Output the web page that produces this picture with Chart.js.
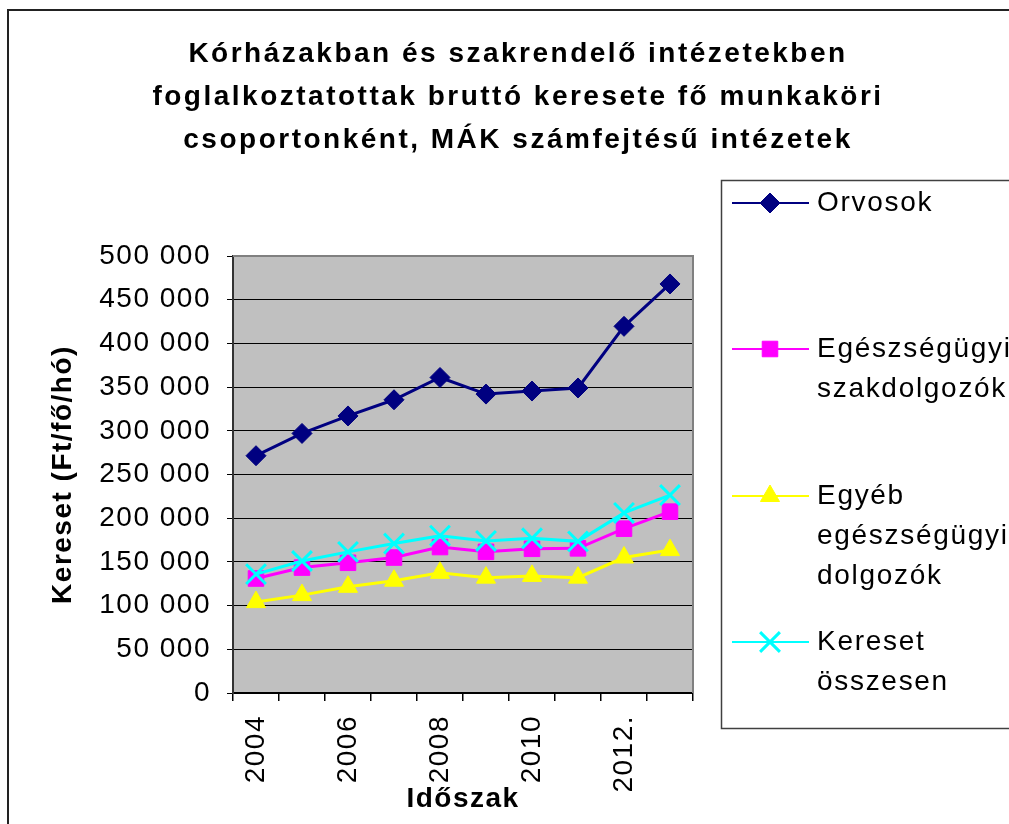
<!DOCTYPE html>
<html lang="hu">
<head>
<meta charset="utf-8">
<title>Bruttó kereset fő munkaköri csoportonként</title>
<script src="https://cdn.jsdelivr.net/npm/chart.js@4.4.1/dist/chart.umd.min.js"></script>
<style>
  html, body { margin: 0; padding: 0; background: #fff; overflow: hidden; }
  #wrap { width: 1036px; height: 824px; }
</style>
</head>
<body>
<div id="wrap"><canvas id="keresetChart" width="1036" height="824"></canvas></div>
<script>
// Kórházak és szakrendelők - bruttó kereset (Ft/fő/hó), MÁK számfejtés

const years = ['2004', '2005', '2006', '2007', '2008', '2009', '2010', '2011', '2012.', '2013.'];
const orvosok = [271500, 297000, 317000, 335500, 361000, 342000, 345500, 349000, 419500, 468000];
const szakdolgozok = [131000, 143500, 149000, 155000, 167000, 161500, 165000, 165500, 188000, 207500];
const egyebDolgozok = [104000, 112000, 121500, 128500, 137500, 132000, 134000, 132000, 155000, 163500];
const keresetOsszesen = [136000, 151000, 161500, 171000, 180000, 174000, 177000, 173500, 206000, 226500];

const yMin = 0;
const yMax = 500000;
const yStep = 50000;

const FONT = '"Liberation Sans", Arial, sans-serif';

// "500 000" style thousands
function ezres(v) {
  return String(v).replace(/\B(?=(\d{3})+(?!\d))/g, ' ');
}

// gray plot area + spaced text, like the old Excel look
const plotBackground = {
  id: 'plotBackground',
  beforeDraw(chart) {
    const { ctx, chartArea: a } = chart;
    ctx.save();
    ctx.fillStyle = '#C0C0C0';
    ctx.fillRect(a.left, a.top, a.right - a.left, a.bottom - a.top);
    ctx.restore();
    ctx.letterSpacing = '1.5px';
  },
  afterLayout(chart) {
    const t = chart.titleBlock;
    if (t && !t._spaced) {
      const draw = t.draw;
      t.draw = function () {
        const old = this.ctx.letterSpacing;
        this.ctx.letterSpacing = '2.5px';
        draw.apply(this, arguments);
        this.ctx.letterSpacing = old;
      };
      t._spaced = true;
    }
  },
  beforeDatasetsDraw(chart) {
    const { ctx, chartArea: a } = chart;
    ctx.save();
    ctx.strokeStyle = '#808080';
    ctx.lineWidth = 2;
    ctx.beginPath();
    ctx.moveTo(a.left, a.top);
    ctx.lineTo(a.right, a.top);
    ctx.lineTo(a.right, a.bottom);
    ctx.stroke();
    ctx.restore();
  },
  afterDraw(chart) {
    chart.ctx.letterSpacing = '0px';
  }
};

// legend box on the right, labels wrapped word by word
const legendRows = [203, 349, 496, 642];

const excelLegend = {
  id: 'excelLegend',
  afterDraw(chart) {
    const ctx = chart.ctx;
    ctx.save();
    // outer chart frame
    ctx.strokeStyle = '#222';
    ctx.lineWidth = 2;
    ctx.strokeRect(8, 10, 1100, 900);
    // legend frame
    ctx.strokeStyle = '#404040';
    ctx.lineWidth = 1.5;
    ctx.strokeRect(721.5, 180.5, 400, 548);

    ctx.font = '28px ' + FONT;
    ctx.letterSpacing = '1.7px';
    ctx.textBaseline = 'middle';
    ctx.textAlign = 'left';
    chart.data.datasets.forEach((ds, i) => {
      const y = legendRows[i];
      ctx.strokeStyle = ds.borderColor;
      ctx.lineWidth = 2;
      ctx.beginPath();
      ctx.moveTo(732, y);
      ctx.lineTo(809, y);
      ctx.stroke();

      ctx.fillStyle = ds.pointBackgroundColor;
      ctx.strokeStyle = ds.pointBorderColor;
      ctx.lineWidth = ds.pointBorderWidth;
      Chart.helpers.drawPoint(ctx, {
        pointStyle: ds.pointStyle,
        radius: ds.pointRadius,
        rotation: 0,
        borderWidth: ds.pointBorderWidth
      }, 770, y);

      ctx.fillStyle = '#000';
      ds.label.split(' ').forEach((word, j) => ctx.fillText(word, 817, y + j * 40));
    });
    ctx.restore();
  }
};

function initKeresetChart() {
  const ctx = document.getElementById('keresetChart');

  new Chart(ctx, {
    type: 'line',
    data: {
      labels: years,
      datasets: [
        {
          label: 'Orvosok',
          data: orvosok,
          borderColor: '#000080',
          borderWidth: 3,
          pointStyle: 'rectRot',
          pointRadius: 10,
          pointBackgroundColor: '#000080',
          pointBorderColor: '#000080',
          pointBorderWidth: 1,
          order: 4
        },
        {
          label: 'Egészségügyi szakdolgozók',
          data: szakdolgozok,
          borderColor: '#FF00FF',
          borderWidth: 3,
          pointStyle: 'rect',
          pointRadius: 11,
          pointBackgroundColor: '#FF00FF',
          pointBorderColor: '#FF00FF',
          pointBorderWidth: 1,
          order: 3
        },
        {
          label: 'Egyéb egészségügyi dolgozók',
          data: egyebDolgozok,
          borderColor: '#FFFF00',
          borderWidth: 3,
          pointStyle: 'triangle',
          pointRadius: 11,
          pointBackgroundColor: '#FFFF00',
          pointBorderColor: '#FFFF00',
          pointBorderWidth: 1,
          order: 2
        },
        {
          label: 'Kereset összesen',
          data: keresetOsszesen,
          borderColor: '#00FFFF',
          borderWidth: 3,
          pointStyle: 'crossRot',
          pointRadius: 14,
          pointBackgroundColor: '#00FFFF',
          pointBorderColor: '#00FFFF',
          pointBorderWidth: 3,
          order: 1
        }
      ]
    },
    options: {
      responsive: false,
      devicePixelRatio: 1,
      animation: false,
      events: [],
      elements: { line: { tension: 0 } },
      layout: { padding: 0 },
      plugins: {
        legend: { display: false },
        tooltip: { enabled: false },
        title: {
          display: true,
          text: [
            'Kórházakban és szakrendelő intézetekben',
            'foglalkoztatottak bruttó keresete fő munkaköri',
            'csoportonként, MÁK számfejtésű intézetek'
          ],
          color: '#000',
          font: { family: FONT, size: 28, weight: 'bold', lineHeight: '43px' },
          padding: { top: 33, bottom: 94 }
        }
      },
      scales: {
        x: {
          offset: true,
          afterFit(scale) { scale.height = 131; },
          border: { display: true, color: '#000', width: 2 },
          grid: {
            display: true,
            offset: true,
            drawOnChartArea: false,
            drawTicks: true,
            tickLength: 8,
            color: '#000',
            lineWidth: 1.5
          },
          ticks: {
            autoSkip: false,
            maxRotation: 90,
            minRotation: 90,
            padding: 14,
            color: '#000',
            font: { family: FONT, size: 28 },
            callback: function (val, i) {
              return i % 2 === 0 ? this.getLabelForValue(val) : '';
            }
          },
          title: {
            display: true,
            text: 'Időszak',
            color: '#000',
            font: { family: FONT, size: 28, weight: 'bold' },
            padding: { top: 0, bottom: 8 }
          }
        },
        y: {
          min: yMin,
          max: yMax,
          afterFit(scale) { scale.width = 233; },
          border: { display: true, color: '#333', width: 2 },
          grid: {
            color: '#000',
            lineWidth: 1,
            tickLength: 6
          },
          ticks: {
            stepSize: yStep,
            padding: 16,
            color: '#000',
            font: { family: FONT, size: 28 },
            callback: (v) => ezres(v)
          },
          title: {
            display: true,
            text: 'Kereset (Ft/fő/hó)',
            color: '#000',
            font: { family: FONT, size: 28, weight: 'bold' },
            padding: { top: 46, bottom: 0 }
          }
        },
        // empty right-hand box that leaves room for the legend
        legendSpace: {
          type: 'linear',
          position: 'right',
          afterFit(scale) { scale.width = 343; },
          border: { display: false },
          grid: { display: false },
          ticks: { display: false }
        }
      }
    },
    plugins: [plotBackground, excelLegend]
  });
}

initKeresetChart();
</script>
</body>
</html>
